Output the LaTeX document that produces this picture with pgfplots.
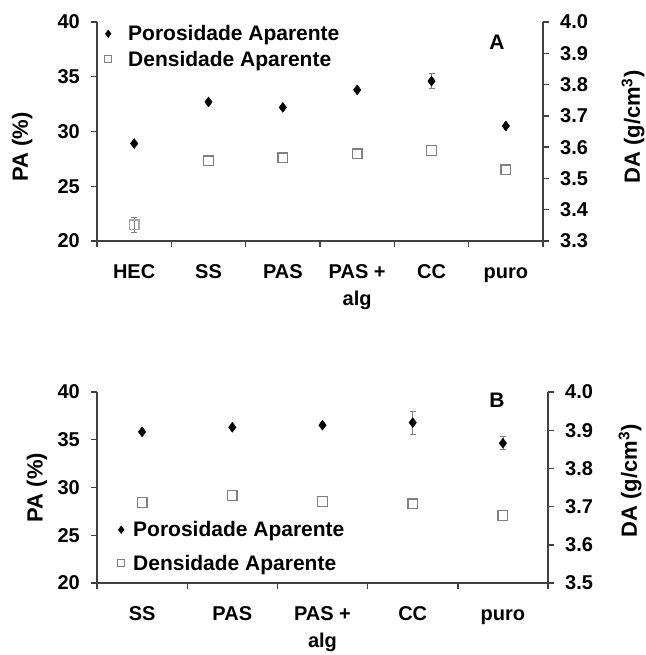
\documentclass[border=0pt]{standalone}
\usepackage{fontspec}
\setmainfont{Liberation Sans}
\usepackage{pgfplots}
\pgfplotsset{compat=1.18}
\definecolor{axgray}{HTML}{404040}
\definecolor{sqgray}{HTML}{7F7F7F}
\definecolor{sqlight}{HTML}{A8A8A8}
\definecolor{errgray}{HTML}{808080}
\pgfplotsset{
  base/.style={
    scale only axis,
    font=\fontsize{20}{27}\selectfont\bfseries,
    /pgf/number format/assume math mode=true,
    axis line style={-, axgray, line width=1.4pt},
    tick style={axgray, line width=1.4pt},
    tick align=outside,
    major tick length=6pt,
    ticklabel style={font=\fontsize{20}{27}\selectfont\bfseries},
    label style={font=\fontsize{22}{27}\selectfont\bfseries},
    xticklabel style={align=center, anchor=north, inner sep=0pt, yshift=-12pt},
    yticklabel style={inner sep=0pt, xshift=-11pt},
    clip=false,
  },
  rbase/.style={
    scale only axis,
    font=\fontsize{20}{27}\selectfont\bfseries,
    /pgf/number format/assume math mode=true,
    axis line style={-, axgray, line width=1.4pt},
    tick style={axgray, line width=1.4pt},
    tick align=outside,
    major tick length=6pt,
    ticklabel style={font=\fontsize{20}{27}\selectfont\bfseries},
    label style={font=\fontsize{22}{27}\selectfont\bfseries},
    yticklabel style={inner sep=0pt, xshift=11pt, /pgf/number format/.cd, fixed, fixed zerofill, precision=1},
    axis y line*=right, axis x line=none,
    clip=false,
  },
  pa/.style={only marks, mark=diamond*, mark size=5pt, black},
  da/.style={only marks, mark=square, mark size=4.8pt, sqgray, mark options={line width=1.3pt}},
  eb/.style={draw=none, mark=none, forget plot, error bars/.cd, y dir=both, y explicit, error mark=-,
     error bar style={errgray, line width=0.8pt}, error mark options={errgray, mark size=3pt, line width=0.8pt, rotate=90}},
}
\begin{document}
\begin{tikzpicture}
\useasboundingbox (0,0) rectangle (645pt,-655pt);
% ---------------- Panel A ----------------
\begin{axis}[base,
  at={(97pt,-241pt)}, anchor=south west, width=446pt, height=219pt,
  xmin=-0.5, xmax=5.5, ymin=20, ymax=40, ytick={20,25,30,35,40},
  axis x line*=bottom, axis y line*=left,
  xtick={-0.5,0.5,1.5,2.5,3.5,4.5,5.5}, x tick label as interval,
  xticklabels={\strut HEC,\strut SS,\strut PAS,{\strut PAS +\\alg},\strut CC,\strut puro},
  ylabel={PA (\%)}, ylabel style={at={(axis description cs:-0.168,0.43)}, anchor=center},
  legend style={draw=none, fill=none, at={(axis description cs:0.0,0.995)}, anchor=north west,
    row sep=4pt, inner sep=0pt, nodes={inner sep=0pt, text height=15pt, text depth=4pt},
    font=\fontsize{21}{24}\selectfont\bfseries},
  legend cell align=left,
  legend image code/.code={\path[draw=none,fill=none] (0pt,-3pt) rectangle (31pt,12pt); \draw[#1] plot coordinates {(11pt,1.5pt)};},
]
\addlegendimage{only marks, mark=diamond*, mark size=3.8pt, black}
\addlegendentry{Porosidade Aparente}
\addlegendimage{only marks, mark=square, mark size=3.6pt, sqgray, mark options={line width=1pt}}
\addlegendentry{Densidade Aparente}
\addplot[eb] coordinates {(4,34.6) +- (0,0.7)};
\addplot[pa, forget plot] coordinates {(0,28.9) (1,32.7) (2,32.2) (3,33.8) (4,34.6) (5,30.5)};
\node[font=\fontsize{21}{24}\selectfont\bfseries] at (rel axis cs:0.897,0.909) {A};
\end{axis}
\begin{axis}[rbase,
  at={(97pt,-241pt)}, anchor=south west, width=446pt, height=219pt,
  xmin=-0.5, xmax=5.5, ymin=3.3, ymax=4.0, ytick={3.3,3.4,3.5,3.6,3.7,3.8,3.9,4.0},
  ylabel={DA (g/cm\textsuperscript{3})}, ylabel style={at={(axis description cs:1.202,0.52)}, anchor=center},
]
\addplot[eb] coordinates {(0,3.352) +- (0,0.023)};
\addplot[da, sqlight] coordinates {(0,3.352)};
\addplot[da] coordinates {(1,3.556) (2,3.566) (3,3.579) (4,3.589) (5,3.528)};
\end{axis}
% ---------------- Panel B ----------------
\begin{axis}[base,
  at={(97pt,-583pt)}, anchor=south west, width=451pt, height=191pt,
  xmin=-0.5, xmax=4.5, ymin=20, ymax=40, ytick={20,25,30,35,40},
  axis x line*=bottom, axis y line*=left,
  xtick={-0.5,0.5,1.5,2.5,3.5,4.5}, x tick label as interval,
  xticklabels={\strut SS,\strut PAS,{\strut PAS +\\alg},\strut CC,\strut puro},
  ylabel={PA (\%)}, ylabel style={at={(axis description cs:-0.133,0.5)}, anchor=center},
  legend style={draw=none, fill=none, at={(axis description cs:0.0,0.335)}, anchor=north west,
    row sep=12pt, inner sep=0pt, nodes={inner sep=0pt, text height=15pt, text depth=4pt},
    font=\fontsize{21}{24}\selectfont\bfseries},
  legend cell align=left,
  legend image code/.code={\path[draw=none,fill=none] (0pt,-3pt) rectangle (36pt,12pt); \draw[#1] plot coordinates {(24pt,1.5pt)};},
]
\addlegendimage{only marks, mark=diamond*, mark size=3.8pt, black}
\addlegendentry{Porosidade Aparente}
\addlegendimage{only marks, mark=square, mark size=3.6pt, sqgray, mark options={line width=1pt}}
\addlegendentry{Densidade Aparente}
\addplot[eb] coordinates {(3,36.8) +- (0,1.2) (4,34.64) +- (0,0.7)};
\addplot[pa, forget plot] coordinates {(0,35.83) (1,36.31) (2,36.52) (3,36.8) (4,34.64)};
\node[font=\fontsize{21}{24}\selectfont\bfseries] at (rel axis cs:0.887,0.958) {B};
\end{axis}
\begin{axis}[rbase,
  at={(97pt,-583pt)}, anchor=south west, width=451pt, height=191pt,
  xmin=-0.5, xmax=4.5, ymin=3.5, ymax=4.0, ytick={3.5,3.6,3.7,3.8,3.9,4.0},
  ylabel={DA (g/cm\textsuperscript{3})}, ylabel style={at={(axis description cs:1.182,0.534)}, anchor=center},
]
\addplot[da] coordinates {(0,3.711) (1,3.729) (2,3.713) (3,3.707) (4,3.677)};
\end{axis}
\end{tikzpicture}
\end{document}
